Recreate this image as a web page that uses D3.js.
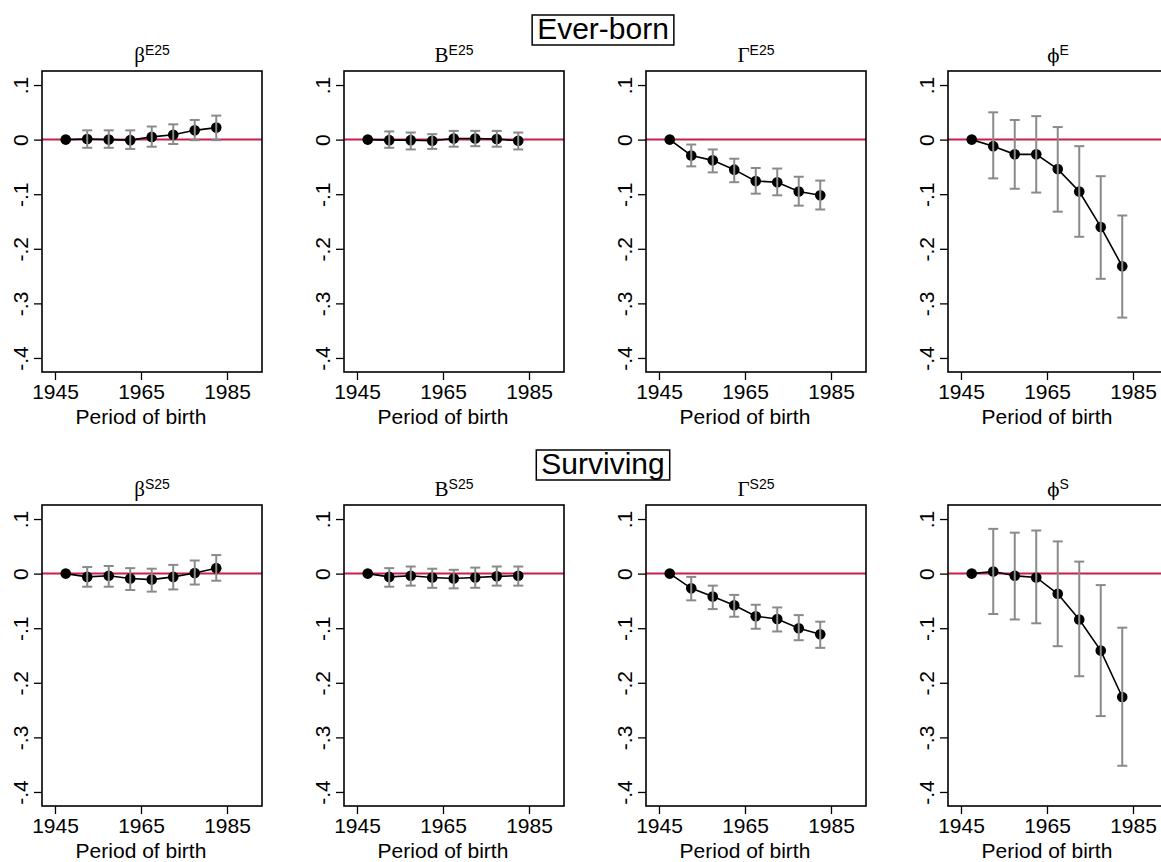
<!DOCTYPE html>
<html lang="en">
<head>
    <meta charset="UTF-8">
    <title>Period of birth coefficients</title>
    <script src="https://d3js.org/d3.v7.min.js"></script>
    <style>
        body { margin: 0; background: #fff; }
        svg text { font-family: "Liberation Sans", Arial, Helvetica, sans-serif; }
        .frame { fill: none; stroke: #000; stroke-width: 1.6; }
        .zero { stroke: #c81e4a; stroke-width: 2; }
        .line { fill: none; stroke: #000; stroke-width: 1.6; }
        .ci { stroke: #8a8a8a; stroke-width: 2; fill: none; }
        .tick line { stroke: #000; stroke-width: 1.3; }
        .domain { display: none; }
        .tick text { font-size: 21px; fill: #000; }
    </style>
</head>
<body>
<svg id="chart" width="1161" height="862"></svg>

<script>
    // Period of birth (midpoints of five-year cohorts)
    const periods = [1947.5, 1952.5, 1957.5, 1962.5, 1967.5, 1972.5, 1977.5, 1982.5];
    const xTicks = [1945, 1965, 1985];
    const yTicks = [0.1, 0, -0.1, -0.2, -0.3, -0.4];
    const yTickLabels = [".1", "0", "-.1", "-.2", "-.3", "-.4"];
    const groupTitles = ["Ever-born", "Surviving"];
    const symbols = ["β", "B", "Γ", "ϕ"];
    const supsE = ["E25", "E25", "E25", "E"];
    const supsS = ["S25", "S25", "S25", "S"];

    // Ever-born
    const betaE = [0, 0.001, 0.000, -0.001, 0.005, 0.009, 0.017, 0.022];
    const betaE_lo = [null, -0.015, -0.015, -0.017, -0.013, -0.008, -0.001, -0.001];
    const betaE_hi = [null, 0.017, 0.017, 0.017, 0.024, 0.028, 0.036, 0.044];

    const bigBE = [0, -0.001, -0.001, -0.002, 0.002, 0.002, 0.001, -0.002];
    const bigBE_lo = [null, -0.015, -0.018, -0.017, -0.013, -0.012, -0.013, -0.018];
    const bigBE_hi = [null, 0.015, 0.013, 0.010, 0.016, 0.016, 0.016, 0.013];

    const gammaE = [0, -0.029, -0.038, -0.055, -0.076, -0.078, -0.095, -0.102];
    const gammaE_lo = [null, -0.049, -0.060, -0.078, -0.099, -0.102, -0.121, -0.128];
    const gammaE_hi = [null, -0.009, -0.018, -0.035, -0.052, -0.053, -0.068, -0.075];

    const phiE = [0, -0.012, -0.027, -0.027, -0.054, -0.095, -0.160, -0.232];
    const phiE_lo = [null, -0.071, -0.090, -0.097, -0.132, -0.178, -0.255, -0.326];
    const phiE_hi = [null, 0.050, 0.036, 0.043, 0.023, -0.012, -0.067, -0.139];

    // Surviving
    const betaS = [0, -0.006, -0.004, -0.009, -0.011, -0.006, 0.001, 0.010];
    const betaS_lo = [null, -0.024, -0.024, -0.030, -0.033, -0.029, -0.020, -0.013];
    const betaS_hi = [null, 0.012, 0.014, 0.010, 0.009, 0.016, 0.024, 0.034];

    const bigBS = [0, -0.006, -0.004, -0.007, -0.009, -0.007, -0.005, -0.004];
    const bigBS_lo = [null, -0.024, -0.022, -0.026, -0.027, -0.026, -0.022, -0.022];
    const bigBS_hi = [null, 0.010, 0.013, 0.009, 0.007, 0.011, 0.013, 0.013];

    const gammaS = [0, -0.027, -0.042, -0.058, -0.078, -0.083, -0.100, -0.111];
    const gammaS_lo = [null, -0.049, -0.065, -0.079, -0.101, -0.106, -0.122, -0.136];
    const gammaS_hi = [null, -0.006, -0.022, -0.039, -0.057, -0.062, -0.076, -0.088];

    const phiS = [0, 0.004, -0.004, -0.007, -0.037, -0.084, -0.141, -0.226];
    const phiS_lo = [null, -0.074, -0.084, -0.091, -0.133, -0.188, -0.261, -0.352];
    const phiS_hi = [null, 0.082, 0.075, 0.079, 0.059, 0.022, -0.021, -0.099];

    const rows = [
        [[betaE, betaE_lo, betaE_hi], [bigBE, bigBE_lo, bigBE_hi], [gammaE, gammaE_lo, gammaE_hi], [phiE, phiE_lo, phiE_hi]],
        [[betaS, betaS_lo, betaS_hi], [bigBS, bigBS_lo, bigBS_hi], [gammaS, gammaS_lo, gammaS_hi], [phiS, phiS_lo, phiS_hi]]
    ];
    const rowSups = [supsE, supsS];

    const svg = d3.select("#chart");

    const panelW = 220, panelH = 301;
    const lefts = [42, 344, 646, 948];
    const tops = [71, 505];
    const groupTitleY = [39, 474];

    // scales shared by all panels (local to each panel)
    const x = d3.scaleLinear().domain([1941.98, 1993.14]).range([0, panelW]);
    const y = d3.scaleLinear().domain([0.1257, -0.4257]).range([0, panelH]);

    rows.forEach((row, r) => {
        // group title with box
        const gt = svg.append("text")
            .attr("x", 603).attr("y", groupTitleY[r])
            .attr("text-anchor", "middle")
            .style("font-size", "30px")
            .text(groupTitles[r]);
        const bb = gt.node().getBBox();
        svg.insert("rect", "text")
            .attr("x", bb.x - 5).attr("y", bb.y + 3)
            .attr("width", bb.width + 10).attr("height", bb.height - 3)
            .attr("fill", "none").attr("stroke", "#000").attr("stroke-width", 1.5);

        row.forEach((series, c) => {
            const [est, lo, hi] = series;
            const data = periods.map((p, i) => ({ p, est: est[i], lo: lo[i], hi: hi[i] }));
            const g = svg.append("g")
                .attr("transform", `translate(${lefts[c]},${tops[r]})`);

            // panel title (straight-stroke phi comes from DejaVu Serif)
            const t = g.append("text")
                .attr("x", panelW / 2).attr("y", -9)
                .attr("text-anchor", "middle");
            t.append("tspan")
                .style("font-family", c === 3 ? "'DejaVu Serif', serif"
                    : "'Liberation Serif', 'Times New Roman', serif")
                .style("font-size", c === 3 ? "18px" : "21px")
                .attr("fill", "#000")
                .text(symbols[c]);
            t.append("tspan")
                .attr("dy", -7)
                .style("font-size", "14px")
                .text(rowSups[r][c]);

            // axes
            g.append("g")
                .attr("transform", `translate(0,${panelH})`)
                .attr("font-size", 21)
                .call(d3.axisBottom(x).tickValues(xTicks).tickFormat(d3.format("d"))
                    .tickSize(8).tickPadding(4));

            const ya = g.append("g")
                .attr("font-size", 21)
                .call(d3.axisLeft(y).tickValues(yTicks).tickSize(8)
                    .tickFormat((d, i) => yTickLabels[i]));
            ya.selectAll(".tick text")
                .attr("text-anchor", "middle")
                .attr("x", null).attr("dy", null)
                .attr("transform", "translate(-22,0) rotate(-90)")
                .attr("dominant-baseline", "central");

            g.append("text")
                .attr("x", x(1965)).attr("y", panelH + 52)
                .attr("text-anchor", "middle")
                .style("font-size", "21px")
                .text("Period of birth");

            // zero line
            g.append("line").attr("class", "zero")
                .attr("x1", 0).attr("x2", panelW)
                .attr("y1", y(0)).attr("y2", y(0));

            // estimates
            g.append("path").datum(data).attr("class", "line")
                .attr("d", d3.line().x(d => x(d.p)).y(d => y(d.est)));

            g.selectAll("circle").data(data).join("circle")
                .attr("cx", d => x(d.p)).attr("cy", d => y(d.est))
                .attr("r", 5.3).attr("fill", "#000");

            // confidence intervals (drawn over markers)
            const ci = g.selectAll(".cig").data(data.filter(d => d.lo !== null))
                .join("g").attr("class", "ci");
            ci.append("line")
                .attr("x1", d => x(d.p)).attr("x2", d => x(d.p))
                .attr("y1", d => y(d.lo)).attr("y2", d => y(d.hi));
            ci.append("line")
                .attr("x1", d => x(d.p) - 5).attr("x2", d => x(d.p) + 5)
                .attr("y1", d => y(d.lo)).attr("y2", d => y(d.lo));
            ci.append("line")
                .attr("x1", d => x(d.p) - 5).attr("x2", d => x(d.p) + 5)
                .attr("y1", d => y(d.hi)).attr("y2", d => y(d.hi));

            // frame
            g.append("rect").attr("class", "frame")
                .attr("width", panelW).attr("height", panelH);
        });
    });
</script>
</body>
</html>
